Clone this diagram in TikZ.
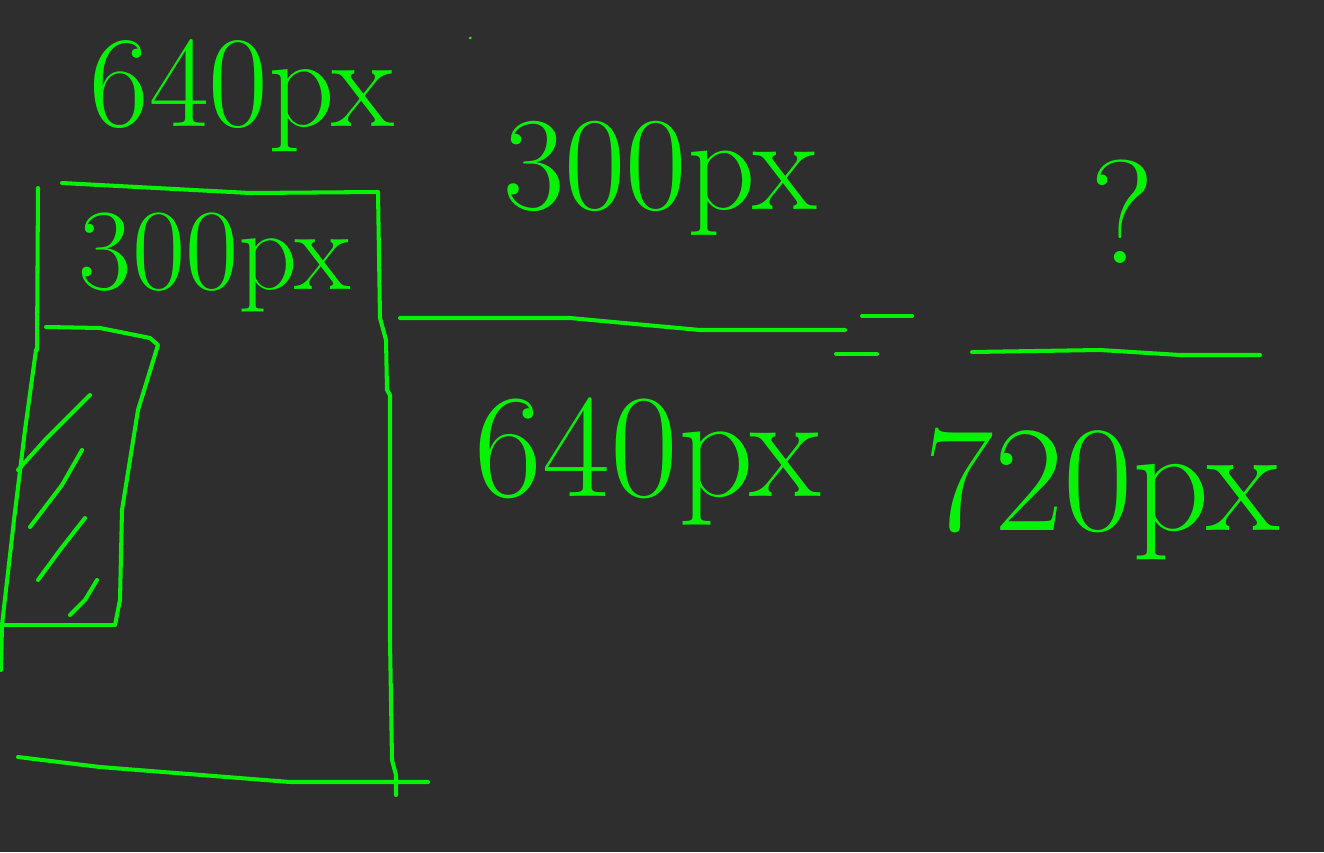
\documentclass[tikz,border=0pt]{standalone}
\usepackage{pgfplots}
\usepackage{mathtools}

\definecolor{board}{HTML}{2E2E2E}
\definecolor{chalk}{HTML}{08F208}

\tikzset{
  pen/.style={chalk, line width=2.3pt, line cap=round, line join=round},
  lbl/.style={chalk, inner sep=0pt, font=\fontsize{#1}{#1}\selectfont}
}

\begin{document}
\begin{tikzpicture}[x=0.02cm, y=-0.02cm]
    \fill[board] (0,0) rectangle (1324,852);
    \useasboundingbox (0,0) rectangle (1324,852);

      % outer frame
      \draw[pen] (38,188)--(37,350);
      \draw[pen] (62,183)--(250,193)--(378,192)--(380,318)--(386,340)--(387,390)--(390,395)--(390,640)--(392,760)--(396,775)--(396,795);
      \draw[pen] (18,757)--(100,767)--(290,782)--(428,782);

      % inner window
      \draw[pen] (46,327)--(100,328)--(150,338)--(158,345)--(138,410)--(122,510)--(120,600)--(115,625);
      \draw[pen] (36,350)--(25,430)--(14,520)--(2,625)--(1,670);
      \draw[pen] (2,625)--(113,625);
      \draw[pen] (90,395)--(45,440)--(18,470);
      \draw[pen] (82,450)--(62,485)--(30,527);
      \draw[pen] (85,518)--(60,550)--(38,580);
      \draw[pen] (97,580)--(85,600)--(70,615);

      % fraction and equals
      \draw[pen] (400,318)--(570,318)--(700,330)--(845,330);
      \draw[pen] (862,316)--(912,316);
      \draw[pen] (836,354)--(877,354);
      \draw[pen] (972,352)--(1100,350)--(1180,355)--(1260,355);

      \fill[chalk] (470,38) circle (1.5);

      \node[lbl=74] (wtop) at (242,96) {640px};
      \node[lbl=66] (win) at (215,262) {300px};
      \node[lbl=76] (num) at (660,178) {300px};
      \node[lbl=84] (den) at (648,462) {640px};
      \node[lbl=84] (q) at (1122,212) {?};
      \node[lbl=86] (res) at (1102,494) {720px};
  \end{tikzpicture}
\end{document}
